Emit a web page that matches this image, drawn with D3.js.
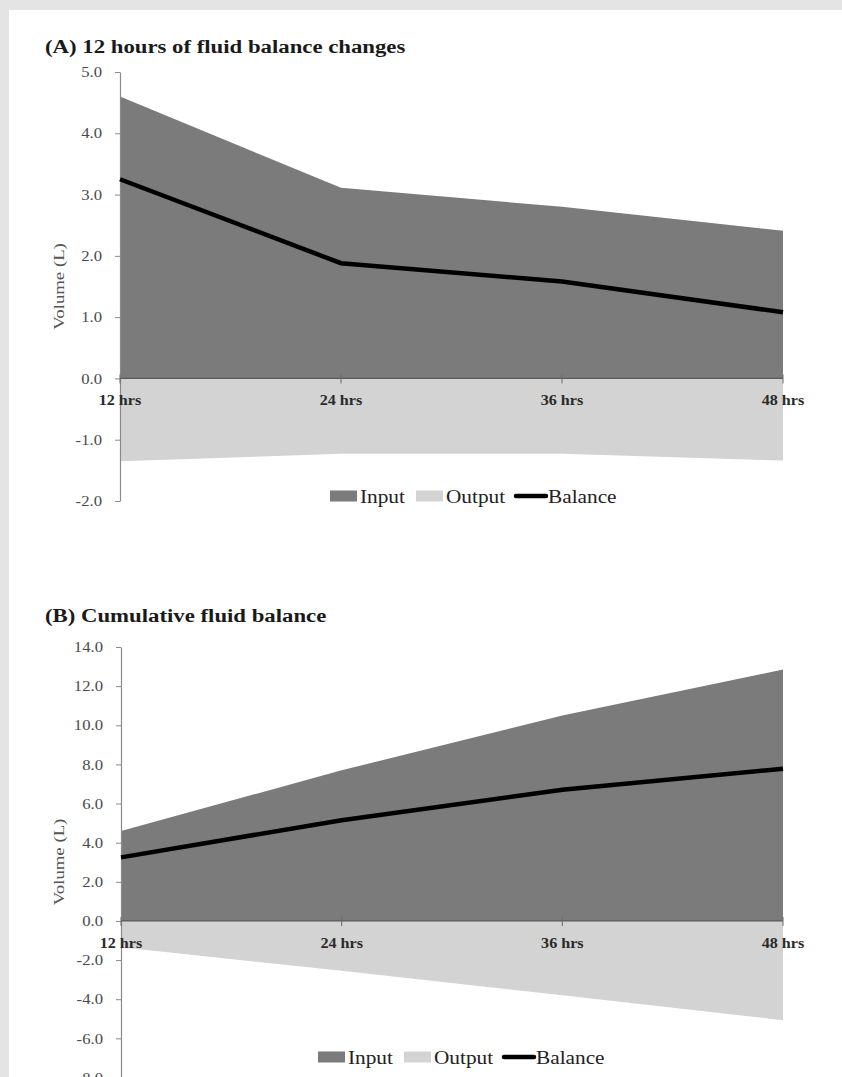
<!DOCTYPE html>
<html>
<head>
<meta charset="utf-8">
<script src="https://cdn.jsdelivr.net/npm/d3@7"></script>
<style>
  body { margin: 0; background: #fff; }
  text { font-family: "Liberation Serif", "Times New Roman", serif; }
</style>
</head>
<body>
<div id="chart"></div>
<script>
// categories
const hours = ["12 hrs", "24 hrs", "36 hrs", "48 hrs"]

// (A) 12 hours of fluid balance changes
const inputA = [4.6, 3.11, 2.8, 2.41]
const outputA = [-1.35, -1.23, -1.23, -1.34]
const balanceA = [3.25, 1.88, 1.58, 1.08]
const ticksA = [5, 4, 3, 2, 1, 0, -1, -2]

// (B) Cumulative fluid balance
const inputB = [4.6, 7.7, 10.5, 12.85]
const outputB = [-1.35, -2.55, -3.8, -5.07]
const balanceB = [3.25, 5.15, 6.7, 7.78]
const ticksB = [14, 12, 10, 8, 6, 4, 2, 0, -2, -4, -6, -8]

const legendItems = ["Input", "Output", "Balance"]

const W = 842, H = 1077
const STRETCH = 1.15 // the source picture is wider than tall, text looks stretched

const svg = d3.select("#chart").append("svg")
  .attr("width", W)
  .attr("height", H)

// frame
svg.append("rect").attr("width", W).attr("height", H).attr("fill", "#e4e4e4")
svg.append("rect").attr("x", 9).attr("y", 10).attr("width", W - 9).attr("height", H - 10).attr("fill", "#fff")

function stretch(sel, f) {
  sel.each(function () {
    const len = this.getComputedTextLength()
    d3.select(this).attr("textLength", len * f).attr("lengthAdjust", "spacingAndGlyphs")
  })
}

function panel(opts) {
  const g = svg.append("g")
  const x = d3.scalePoint().domain(hours).range([opts.x0, opts.x1])
  const y = d3.scaleLinear().domain(opts.domain).range([opts.y1, opts.y0])
  const rows = hours.map((h, i) => ({ h: h, inp: opts.input[i], out: opts.output[i], bal: opts.balance[i] }))

  // title
  g.append("text")
    .attr("x", 45).attr("y", opts.titleY)
    .attr("font-size", 18.5).attr("font-weight", "bold").attr("fill", "#1a1a1a")
    .text(opts.title)
    .call(stretch, 1.23)

  // areas
  g.append("path").datum(rows)
    .attr("fill", "#7b7b7b")
    .attr("d", d3.area().x(d => x(d.h)).y0(y(0)).y1(d => y(d.inp)))
  g.append("path").datum(rows)
    .attr("fill", "#d3d3d3")
    .attr("d", d3.area().x(d => x(d.h)).y0(y(0)).y1(d => y(d.out)))

  // y axis
  const ya = g.append("g")
    .attr("transform", "translate(" + opts.x0 + ",0)")
    .call(d3.axisLeft(y).tickValues(opts.ticks).tickSize(5).tickSizeOuter(0).tickPadding(13)
      .tickFormat(d => d.toFixed(1)))
  ya.select(".domain").attr("stroke", "#8a8a8a").attr("stroke-width", 1.2)
  ya.selectAll(".tick line").attr("stroke", "#8a8a8a")
  ya.selectAll(".tick text")
    .attr("font-size", 14.5).attr("fill", "#4a4a4a").attr("font-family", "Liberation Serif, serif")
    .call(stretch, STRETCH)

  // zero line with category ticks
  g.append("line")
    .attr("x1", opts.x0).attr("x2", opts.x1)
    .attr("y1", y(0)).attr("y2", y(0))
    .attr("stroke", "#5a5a5a").attr("stroke-width", 1.2)
  g.selectAll(".xt").data(hours).enter().append("line")
    .attr("x1", d => x(d)).attr("x2", d => x(d))
    .attr("y1", y(0) - 4).attr("y2", y(0) + 5)
    .attr("stroke", "#6a6a6a")
  g.selectAll(".xl").data(hours).enter().append("text")
    .attr("x", d => x(d)).attr("y", y(0) + 27)
    .attr("text-anchor", "middle")
    .attr("font-size", 14).attr("font-weight", "bold").attr("fill", "#2a2a2a")
    .text(d => d)
    .call(stretch, STRETCH)

  // balance line
  g.append("path").datum(rows)
    .attr("fill", "none")
    .attr("stroke", "#000")
    .attr("stroke-width", 4.5)
    .attr("d", d3.line().x(d => x(d.h)).y(d => y(d.bal)))

  // y label
  const yl = (opts.y0 + opts.labelY1) / 2
  g.append("text")
    .attr("transform", "translate(64," + yl + ") rotate(-90)")
    .attr("text-anchor", "middle")
    .attr("font-size", 15).attr("fill", "#555")
    .text("Volume (L)")
    .call(stretch, 1.25)

  // legend
  const lg = g.append("g").attr("transform", "translate(" + opts.legendX + "," + opts.legendY + ")")
  const offs = [0, 86, 186]
  legendItems.forEach((name, i) => {
    const it = lg.append("g").attr("transform", "translate(" + offs[i] + ",0)")
    if (name === "Balance") {
      it.append("line").attr("x1", 0).attr("x2", 30).attr("y1", 0).attr("y2", 0)
        .attr("stroke", "#000").attr("stroke-width", 4.5).attr("stroke-linecap", "round")
    } else {
      it.append("rect").attr("x", 0).attr("y", -5.5).attr("width", 27).attr("height", 11)
        .attr("fill", name === "Input" ? "#7b7b7b" : "#d3d3d3")
    }
    it.append("text")
      .attr("x", name === "Balance" ? 32 : 30).attr("y", 7)
      .attr("font-size", 19).attr("fill", "#222")
      .text(name)
      .call(stretch, 1.12)
  })
}

panel({
  title: "(A) 12 hours of fluid balance changes",
  titleY: 53,
  input: inputA, output: outputA, balance: balanceA,
  ticks: ticksA, domain: [-2, 5],
  x0: 120, x1: 783, y0: 72, y1: 501, labelY1: 501,
  legendX: 330, legendY: 496
})

panel({
  title: "(B) Cumulative fluid balance",
  titleY: 622,
  input: inputB, output: outputB, balance: balanceB,
  ticks: ticksB, domain: [-8, 14],
  x0: 121, x1: 783, y0: 647, y1: 1077.5, labelY1: 1077,
  legendX: 318, legendY: 1057
})
</script>
</body>
</html>
